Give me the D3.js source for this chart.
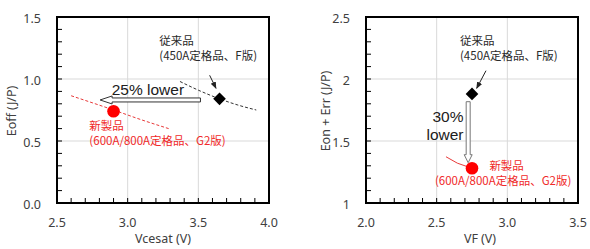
<!DOCTYPE html>
<html lang="ja">
<head>
<meta charset="UTF-8">
<title>Eoff / Eon+Err comparison</title>
<style>
  html, body { margin: 0; background: #fff; }
  text { font-family: 'Noto Sans', sans-serif; fill: #404040; }
  .jp { font-family: 'Noto Sans CJK JP', sans-serif; font-size: 11.5px; fill: #2a2a2a; }
  .grid line { stroke: #d9d9d9; stroke-width: 1px; }
  .frame { fill: none; stroke: #000; stroke-width: 2px; }
  .minor line { stroke: #000; stroke-width: 1px; }
  .tick-label { font-size: 12.5px; }
  .axis-title { font-size: 12.5px; }
  .big { font-family: 'Liberation Sans', Arial, sans-serif; font-size: 15.5px; fill: #202020; }
  .red { fill: #f02a2a; }
</style>
</head>
<body>
<svg width="590" height="249"></svg>
<script src="https://d3js.org/d3.v7.min.js"></script>
<script>

// ---- data ----
const eoffXTicks = [2.5, 3.0, 3.5, 4.0];
const eoffYTicks = [0, 0.5, 1.0, 1.5];
const eoffYLabels = ["0.0", "0.5", "1.0", "1.5"];
const eoffOld = [[3.65, 0.84]];
const eoffNew = [[2.90, 0.74]];
const eoffOldTrend = [[3.37, 0.98], [3.50, 0.91], [3.65, 0.84], [3.78, 0.79], [3.91, 0.75]];
const eoffNewTrend = [[2.60, 0.865], [2.90, 0.75], [3.10, 0.67], [3.29, 0.60]];

const errXTicks = [2.0, 2.5, 3.0, 3.5];
const errYTicks = [1, 1.5, 2, 2.5];
const errYLabels = ["1", "1.5", "2", "2.5"];
const errOld = [[2.75, 1.88]];
const errNew = [[2.75, 1.28]];

const svg = d3.select("svg");

function panel(opt) {
  const x = d3.scaleLinear().domain(opt.xDomain).range(opt.xRange);
  const y = d3.scaleLinear().domain(opt.yDomain).range([203, 17]);
  const g = svg.append("g");

  // gridlines
  const grid = g.append("g").attr("class", "grid");
  grid.selectAll(".gx").data(opt.xTicks.slice(1, -1)).join("line")
      .attr("x1", d => x(d)).attr("x2", d => x(d))
      .attr("y1", y.range()[0]).attr("y2", y.range()[1]);
  grid.selectAll(".gy").data(opt.yTicks.slice(1, -1)).join("line")
      .attr("y1", d => y(d)).attr("y2", d => y(d))
      .attr("x1", x.range()[0]).attr("x2", x.range()[1]);

  // inner minor ticks every 0.1
  const minor = g.append("g").attr("class", "minor");
  const xm = d3.range(opt.xDomain[0], opt.xDomain[1] + 0.001, 0.1);
  const ym = d3.range(opt.yDomain[0], opt.yDomain[1] + 0.001, 0.1);
  minor.selectAll(".mx").data(xm).join("line")
      .attr("x1", d => x(d)).attr("x2", d => x(d))
      .attr("y1", y.range()[0]).attr("y2", y.range()[0] - 5);
  minor.selectAll(".my").data(ym).join("line")
      .attr("y1", d => y(d)).attr("y2", d => y(d))
      .attr("x1", x.range()[0]).attr("x2", x.range()[0] + 5);

  g.append("rect").attr("class", "frame")
      .attr("x", x.range()[0]).attr("y", y.range()[1])
      .attr("width", x.range()[1] - x.range()[0])
      .attr("height", y.range()[0] - y.range()[1]);

  // tick labels
  g.selectAll(".xl").data(opt.xTicks).join("text")
      .attr("class", "tick-label")
      .attr("x", d => x(d)).attr("y", 222)
      .attr("text-anchor", "middle").attr("dominant-baseline", "central")
      .text(d => d.toFixed(1));
  g.selectAll(".yl").data(opt.yTicks).join("text")
      .attr("class", "tick-label")
      .attr("x", x.range()[0] - 16).attr("y", d => y(d) + 1)
      .attr("text-anchor", "end").attr("dominant-baseline", "central")
      .text((d, i) => opt.yLabels[i]);

  g.append("text").attr("class", "axis-title")
      .attr("x", opt.xTitleX).attr("y", 238)
      .attr("text-anchor", "middle").attr("dominant-baseline", "central")
      .text(opt.xTitle);
  g.append("text").attr("class", "axis-title")
      .attr("transform", `translate(${opt.yTitleX},111) rotate(-90)`)
      .attr("text-anchor", "middle").attr("dominant-baseline", "central")
      .text(opt.yTitle);

  return {g, x, y};
}

function pointer(g, x, y, from, to) {
  g.append("line")
      .attr("x1", x(from[0])).attr("y1", y(from[1]))
      .attr("x2", x(to[0])).attr("y2", y(to[1]))
      .attr("stroke", "#222").attr("stroke-width", 1)
      .attr("marker-end", "url(#tip)");
}

// two-line label; lines kept ~15px apart
function label(g, x, y, cls, lines) {
  lines.forEach(l => {
    g.append("text").attr("class", cls)
        .attr("x", x(l[0])).attr("y", y(l[1]))
        .attr("dominant-baseline", "central").text(l[2]);
  });
}

const defs = svg.append("defs");
defs.append("marker").attr("id", "tip")
    .attr("viewBox", "0 0 10 10").attr("refX", 9).attr("refY", 5)
    .attr("markerWidth", 7).attr("markerHeight", 7).attr("orient", "auto")
  .append("path").attr("d", "M0,1 L10,5 L0,9 Z").attr("fill", "#222");

const diamond = d3.symbol().type(d3.symbolSquare).size(80);
const line = (x, y) => d3.line().x(d => x(d[0])).y(d => y(d[1])).curve(d3.curveMonotoneX);

// ---- left panel: Eoff vs Vcesat ----
const L = panel({
  xDomain: [2.5, 4.0], xRange: [57, 269], yDomain: [0, 1.5],
  xTicks: eoffXTicks, yTicks: eoffYTicks, yLabels: eoffYLabels,
  xTitle: "Vcesat (V)", xTitleX: 163, yTitle: "Eoff (J/P)", yTitleX: 11
});

L.g.append("path").datum(eoffOldTrend)
    .attr("d", line(L.x, L.y)).attr("fill", "none")
    .attr("stroke", "#333").attr("stroke-width", 1).attr("stroke-dasharray", "3,2");
L.g.append("path").datum(eoffNewTrend)
    .attr("d", line(L.x, L.y)).attr("fill", "none")
    .attr("stroke", "#e83a3a").attr("stroke-width", 1).attr("stroke-dasharray", "3,2");

// hollow left arrow "25% lower"
{
  const tipX = L.x(2.805), endX = L.x(3.515), cy = L.y(0.831), hx = tipX + 12;
  L.g.append("path")
      .attr("d", `M${tipX},${cy} L${hx},${cy - 4} L${hx},${cy - 2} L${endX},${cy - 2} L${endX},${cy + 2} L${hx},${cy + 2} L${hx},${cy + 4} Z`)
      .attr("fill", "#fff").attr("stroke", "#333").attr("stroke-width", 1);
}
L.g.append("text").attr("class", "big")
    .attr("x", L.x(2.887)).attr("y", L.y(0.871)).text("25% lower");

L.g.selectAll(".old").data(eoffOld).join("path")
    .attr("transform", d => `translate(${L.x(d[0])},${L.y(d[1])}) rotate(45)`)
    .attr("d", diamond).attr("fill", "#000");
L.g.selectAll(".new").data(eoffNew).join("circle")
    .attr("cx", d => L.x(d[0])).attr("cy", d => L.y(d[1])).attr("r", 6.3)
    .attr("fill", "#ff0000");

pointer(L.g, L.x, L.y, [3.58, 1.03], [3.625, 0.925]);

label(L.g, L.x, L.y, "jp", [[3.224, 1.315, "従来品"], [3.224, 1.195, "(450A定格品、F版)"]]);
label(L.g, L.x, L.y, "jp red", [[2.729, 0.627, "新製品"], [2.729, 0.508, "(600A/800A定格品、G2版)"]]);

// ---- right panel: Eon+Err vs VF ----
const R = panel({
  xDomain: [2.0, 3.5], xRange: [366, 578], yDomain: [1, 2.5],
  xTicks: errXTicks, yTicks: errYTicks, yLabels: errYLabels,
  xTitle: "VF (V)", xTitleX: 480, yTitle: "Eon + Err (J/P)", yTitleX: 325
});

// hollow down arrow "30% lower"
{
  const cx = R.x(2.723), top = R.y(1.817), tip = R.y(1.325), hy = tip - 8;
  R.g.append("path")
      .attr("d", `M${cx},${tip} L${cx - 4},${hy} L${cx - 2},${hy} L${cx - 2},${top} L${cx + 2},${top} L${cx + 2},${hy} L${cx + 4},${hy} Z`)
      .attr("fill", "#fff").attr("stroke", "#777").attr("stroke-width", 1);
}
R.g.append("text").attr("class", "big").attr("text-anchor", "middle")
    .attr("x", R.x(2.58)).attr("y", R.y(1.696)).attr("dominant-baseline", "central").text("30%");
R.g.append("text").attr("class", "big").attr("text-anchor", "middle")
    .attr("x", R.x(2.559)).attr("y", R.y(1.554)).attr("dominant-baseline", "central").text("lower");

R.g.selectAll(".old").data(errOld).join("path")
    .attr("transform", d => `translate(${R.x(d[0])},${R.y(d[1])}) rotate(45)`)
    .attr("d", diamond).attr("fill", "#000");

// thin red leader to the new point
R.g.append("path")
    .attr("d", `M${R.x(2.566)},${R.y(1.373)} Q${R.x(2.65)},${R.y(1.31)} ${R.x(2.72)},${R.y(1.292)}`)
    .attr("fill", "none").attr("stroke", "#e83a3a").attr("stroke-width", 1);

R.g.selectAll(".new").data(errNew).join("circle")
    .attr("cx", d => R.x(d[0])).attr("cy", d => R.y(d[1])).attr("r", 6.3)
    .attr("fill", "#ff0000");

pointer(R.g, R.x, R.y, [2.849, 2.067], [2.783, 1.925]);

label(R.g, R.x, R.y, "jp", [[2.665, 2.315, "従来品"], [2.665, 2.19, "(450A定格品、F版)"]]);
label(R.g, R.x, R.y, "jp red", [[2.873, 1.307, "新製品"], [2.488, 1.187, "(600A/800A定格品、G2版)"]]);

</script>
</body>
</html>
